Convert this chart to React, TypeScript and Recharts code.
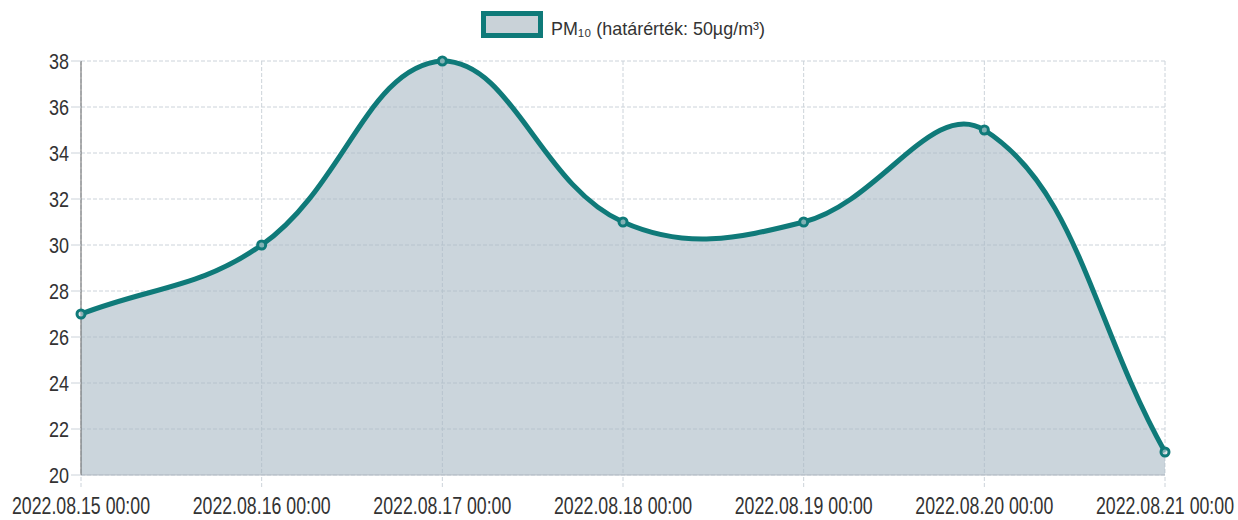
import React from 'react';
import { AreaChart, Area, XAxis, YAxis, CartesianGrid, Legend } from 'recharts';

const categories = [
  '2022.08.15 00:00',
  '2022.08.16 00:00',
  '2022.08.17 00:00',
  '2022.08.18 00:00',
  '2022.08.19 00:00',
  '2022.08.20 00:00',
  '2022.08.21 00:00',
];
const pm10Values = [27, 30, 38, 31, 31, 35, 21];
const yTicks = [20, 22, 24, 26, 28, 30, 32, 34, 36, 38];
const seriesName = 'PM₁₀ (határérték: 50µg/m³)';

const data = categories.map((c, i) => ({ date: c, pm10: pm10Values[i] }));

const TEAL = '#0f7a79';
const FILL = '#a9b9c4';
const GRID = '#ccd3da';
const FONT = "'Liberation Sans', Arial, sans-serif";
const TEXT = '#333';

// Chart.js-style spline (tension 0.4) as a d3-compatible curve factory
function splineCurve(tension: number) {
  return function (context: any) {
    let pts: [number, number][] = [];
    let line = NaN;
    return {
      areaStart() {
        line = 0;
      },
      areaEnd() {
        line = NaN;
      },
      lineStart() {
        pts = [];
      },
      point(x: number, y: number) {
        pts.push([+x, +y]);
      },
      lineEnd() {
        const n = pts.length;
        if (n) {
          if (line) context.lineTo(pts[0][0], pts[0][1]);
          else context.moveTo(pts[0][0], pts[0][1]);
          let minY = Infinity;
          let maxY = -Infinity;
          pts.forEach((p) => {
            minY = Math.min(minY, p[1]);
            maxY = Math.max(maxY, p[1]);
          });
          const clampY = (v: number) => Math.max(minY, Math.min(maxY, v));
          const cps = pts.map((cur, i) => {
            const prev = pts[i - 1] || cur;
            const next = pts[i + 1] || cur;
            const d01 = Math.hypot(cur[0] - prev[0], cur[1] - prev[1]);
            const d12 = Math.hypot(next[0] - cur[0], next[1] - cur[1]);
            let s01 = d01 / (d01 + d12);
            let s12 = d12 / (d01 + d12);
            if (!isFinite(s01)) s01 = 0;
            if (!isFinite(s12)) s12 = 0;
            const fa = tension * s01;
            const fb = tension * s12;
            return {
              px: cur[0] - fa * (next[0] - prev[0]),
              py: clampY(cur[1] - fa * (next[1] - prev[1])),
              nx: cur[0] + fb * (next[0] - prev[0]),
              ny: clampY(cur[1] + fb * (next[1] - prev[1])),
            };
          });
          for (let i = 1; i < n; i++) {
            context.bezierCurveTo(
              cps[i - 1].nx,
              cps[i - 1].ny,
              cps[i].px,
              cps[i].py,
              pts[i][0],
              pts[i][1]
            );
          }
        }
        if (line || (line !== 0 && n === 1)) context.closePath();
        line = 1 - line;
      },
    };
  };
}

const XTick = (props: any) => {
  const { x, y, payload } = props;
  return (
    <text
      x={x}
      y={y}
      dy="0.72em"
      textAnchor="middle"
      fill={TEXT}
      fontSize={23.5}
      fontFamily={FONT}
      textLength={138}
      lengthAdjust="spacingAndGlyphs"
    >
      {payload.value}
    </text>
  );
};

const YTick = (props: any) => {
  const { x, y, payload } = props;
  return (
    <text
      x={x}
      y={y}
      dy="0.36em"
      textAnchor="end"
      fill={TEXT}
      fontSize={22.5}
      fontFamily={FONT}
      textLength={20}
      lengthAdjust="spacingAndGlyphs"
    >
      {payload.value}
    </text>
  );
};

const LegendContent = () => (
  <svg width={1238} height={30} style={{ display: 'block' }}>
    <rect x={483.5} y={2.5} width={57} height={22} fill="#c9d2d8" stroke={TEAL} strokeWidth={5} />
    <text
      x={551}
      y={24}
      fill={TEXT}
      fontSize={19}
      fontFamily={FONT}
      textLength={214}
      lengthAdjust="spacingAndGlyphs"
    >
      {seriesName}
    </text>
  </svg>
);

export default function App() {
  return (
    <div style={{ position: 'absolute', left: 0, top: 0, background: '#fff' }}>
      <AreaChart
        width={1238}
        height={520}
        data={data}
        margin={{ top: 31, right: 73, bottom: 0, left: 0 }}
      >
        <CartesianGrid stroke={GRID} strokeDasharray="4 2" />
        <XAxis
          dataKey="date"
          height={45}
          tickSize={12}
          tickMargin={10}
          axisLine={{ stroke: '#b3bbc3' }}
          tickLine={{ stroke: GRID, strokeDasharray: '4 2' }}
          tick={<XTick />}
          interval={0}
        />
        <YAxis
          width={81}
          domain={[20, 38]}
          ticks={yTicks}
          tickSize={10}
          tickMargin={2}
          axisLine={{ stroke: '#666' }}
          tickLine={{ stroke: GRID }}
          tick={<YTick />}
          interval={0}
        />
        <Legend
          verticalAlign="top"
          align="center"
          content={<LegendContent />}
          wrapperStyle={{ top: 11, left: 0, width: 1238, height: 30 }}
        />
        <Area
          name={seriesName}
          dataKey="pm10"
          type={splineCurve(0.4) as any}
          stroke={TEAL}
          strokeWidth={5}
          fill={FILL}
          fillOpacity={0.6}
          dot={{ r: 4, fill: '#cdd6dc', stroke: TEAL, strokeWidth: 3 }}
          activeDot={false}
          isAnimationActive={false}
        />
      </AreaChart>
    </div>
  );
}
